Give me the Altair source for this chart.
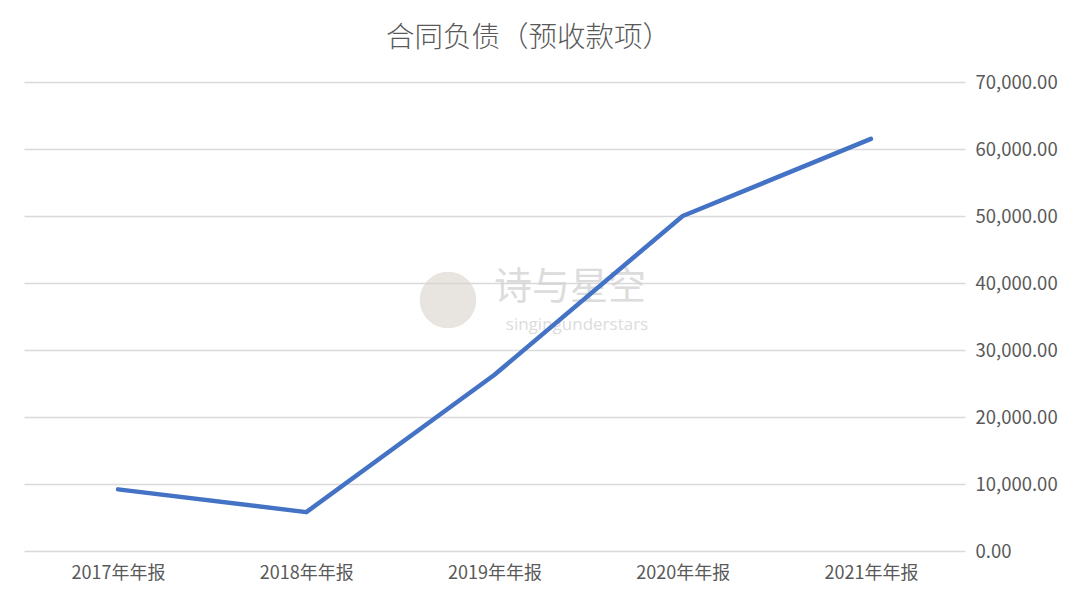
import altair as alt
import pandas as pd

categories = ["2017年年报", "2018年年报", "2019年年报", "2020年年报", "2021年年报"]
values = [9200, 5800, 26300, 50000, 61500]

df = pd.DataFrame({"period": categories, "value": values})

FONT = "Noto Sans CJK SC"
W, H = 941, 469

base = alt.Chart(df)

line = base.mark_line(color="#4472C4", strokeWidth=4.5, strokeCap="round", strokeJoin="round").encode(
    x=alt.X("period:N", sort=categories, title=None,
            scale=alt.Scale(type="point", padding=0.5),
            axis=alt.Axis(labelAngle=0, domain=False, ticks=False, labelPadding=13,
                          labelFontSize=18, labelColor="#595959", labelFont=FONT, grid=False)),
    y=alt.Y("value:Q", title=None,
            scale=alt.Scale(domain=[0, 70000], nice=False),
            axis=alt.Axis(orient="right", values=[0, 10000, 20000, 30000, 40000, 50000, 60000, 70000],
                          format=",.2f", domain=False, ticks=False, labelPadding=10,
                          labelFontSize=18.5, labelColor="#595959", labelFont=FONT,
                          grid=True, gridColor="#d9d9d9", gridWidth=1.5)),
)

wm_circle = alt.Chart(pd.DataFrame({"a": [1]})).mark_circle(color="#d8d3cc", opacity=0.6, size=3200).encode(
    x=alt.value(424), y=alt.value(218))
wm_text1 = alt.Chart(pd.DataFrame({"t": ["诗与星空"]})).mark_text(
    font=FONT, fontSize=38, color="#d4d4d4", opacity=0.8).encode(
    text="t:N", x=alt.value(546), y=alt.value(206))
wm_text2 = alt.Chart(pd.DataFrame({"t": ["singingunderstars"]})).mark_text(
    font="Open Sans", fontSize=17, color="#d4d4d4", opacity=0.8).encode(
    text="t:N", x=alt.value(553), y=alt.value(243))

chart = alt.layer(wm_circle, wm_text1, wm_text2, line).properties(
    width=W, height=H,
    view=alt.ViewBackground(stroke="transparent", strokeWidth=0),
    title=alt.TitleParams("合同负债（预收款项）", font=FONT, fontSize=28.5, fontWeight=300,
                          color="#595959", anchor="middle", offset=21, dx=34),
    autosize=alt.AutoSizeParams(type="none"),
    padding={"left": 16, "top": 74, "right": 101, "bottom": 45},
).configure_view(stroke="transparent", strokeWidth=0).configure_axisX(grid=False).configure(background="white")

chart.save("out.html", embed_options={"renderer": "svg", "actions": False})
